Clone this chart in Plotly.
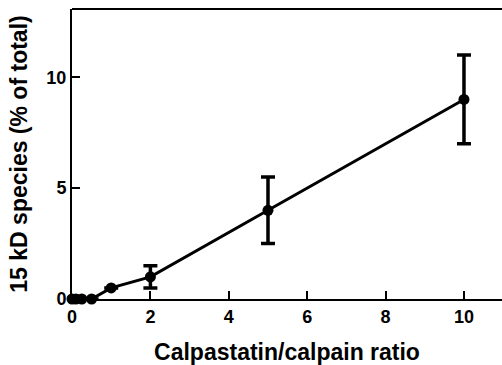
import plotly.graph_objects as go

ratio = [0, 0.1, 0.25, 0.5, 1, 2, 5, 10]
species = [0, 0, 0, 0, 0.5, 1, 4, 9]
err = [0, 0, 0, 0, 0, 0.5, 1.5, 2]
x_ticks = [0, 2, 4, 6, 8, 10]
y_ticks = [0, 5, 10]

fig = go.Figure()
fig.add_trace(go.Scatter(
    x=ratio, y=species,
    mode="lines+markers",
    line=dict(color="black", width=3),
    marker=dict(color="black", size=11),
    error_y=dict(type="data", array=err, visible=True, color="black", thickness=3.5, width=7),
    cliponaxis=False,
    showlegend=False,
))

font = dict(family="Liberation Sans, Arial, sans-serif", color="black")
fig.update_layout(
    width=502, height=365,
    margin=dict(l=72, r=0, t=9, b=66),
    plot_bgcolor="white", paper_bgcolor="white",
    font=font,
)
fig.update_xaxes(
    range=[0, 10.97], tickvals=x_ticks, ticktext=[f"<b>{v}</b>" for v in x_ticks],
    ticks="inside", ticklen=8, tickwidth=2, tickcolor="black",
    showline=True, linecolor="black", linewidth=2, mirror=False,
    showgrid=False, zeroline=False, automargin=False,
    tickfont=dict(size=18, family=font["family"]),
    title=dict(text="<b>Calpastatin/calpain ratio</b>", font=dict(size=23), standoff=18),
)
fig.update_yaxes(
    range=[0, 13.08], tickvals=y_ticks, ticktext=[f"<b>{v}</b>" for v in y_ticks],
    ticks="inside", ticklen=8, tickwidth=2, tickcolor="black",
    showline=True, linecolor="black", linewidth=2,
    showgrid=False, zeroline=False, automargin=False,
    tickfont=dict(size=18, family=font["family"]),
    title=dict(text="<b>15 kD species (% of total)</b>", font=dict(size=23), standoff=12),
)
# top border line
fig.add_shape(type="line", xref="paper", yref="paper", x0=0, x1=1, y0=1, y1=1,
              line=dict(color="black", width=2))

fig.write_html("out.html", config={"displayModeBar": False},
               post_script="document.body.style.margin='0px';")
